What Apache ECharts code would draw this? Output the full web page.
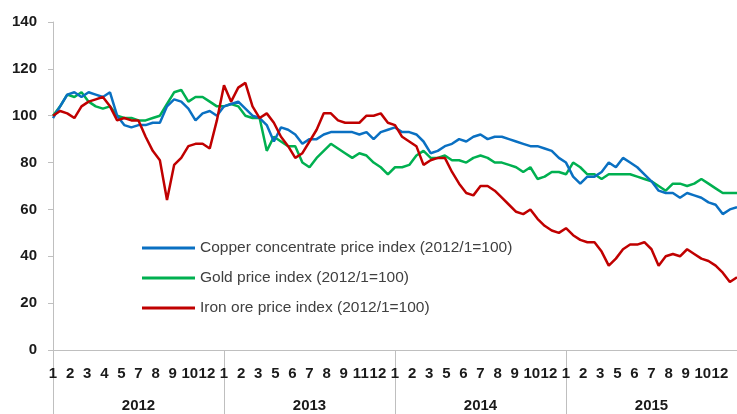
<!DOCTYPE html>
<html>
<head>
<meta charset="utf-8">
<script src="https://cdn.jsdelivr.net/npm/echarts@6/dist/echarts.min.js"></script>
<style>
  html, body { margin: 0; padding: 0; background: #fff; }
  #main { width: 737px; height: 414px; }
</style>
</head>
<body>
<div id="main"></div>
<script>
// half-month readings, Jan 2012 .. end of Dec 2015 (97 points)
var years = ['2012', '2013', '2014', '2015'];
var monthTicks = [
    '1', '2', '3', '4', '5', '7', '8', '9', '10', '12',
    '1', '2', '3', '5', '6', '7', '8', '9', '11', '12',
    '1', '2', '3', '5', '6', '7', '8', '9', '10', '12',
    '1', '2', '3', '5', '6', '7', '8', '9', '10', '12',
    ''
];
var copper = [
    99, 104, 109, 110, 108, 110, 109, 108, 110, 100, 96, 95, 96, 96, 97, 97, 104, 107, 106, 103, 98, 101, 102, 100,
    104, 105, 106, 103, 100, 99, 96, 89, 95, 94, 92, 88, 90, 90, 92, 93, 93, 93, 93, 92, 93, 90, 93, 94,
    95, 93, 93, 92, 89, 84, 85, 87, 88, 90, 89, 91, 92, 90, 91, 91, 90, 89, 88, 87, 87, 86, 85, 82,
    80, 74, 71, 74, 74, 76, 80, 78, 82, 80, 78, 75, 72, 68, 67, 67, 65, 67, 66, 65, 63, 62, 58, 60,
    61
];
var gold = [
    100, 104, 109, 108, 110, 106, 104, 103, 104, 100, 99, 99, 98, 98, 99, 100, 105, 110, 111, 106, 108, 108, 106, 104,
    104, 105, 104, 100, 99, 99, 85, 91, 89, 87, 87, 80, 78, 82, 85, 88, 86, 84, 82, 84, 83, 80, 78, 75,
    78, 78, 79, 83, 85, 82, 82, 83, 81, 81, 80, 82, 83, 82, 80, 80, 79, 78, 76, 78, 73, 74, 76, 76,
    75, 80, 78, 75, 75, 73, 75, 75, 75, 75, 74, 73, 72, 70, 68, 71, 71, 70, 71, 73, 71, 69, 67, 67,
    67
];
var iron = [
    100, 102, 101, 99, 104, 106, 107, 108, 104, 98, 99, 98, 98, 91, 85, 81, 64, 79, 82, 87, 88, 88, 86, 98,
    113, 106, 112, 114, 104, 99, 101, 97, 91, 87, 82, 84, 89, 94, 101, 101, 98, 97, 97, 97, 100, 100, 101, 97,
    96, 91, 89, 87, 79, 81, 82, 82, 76, 71, 67, 66, 70, 70, 68, 65, 62, 59, 58, 60, 56, 53, 51, 50,
    52, 49, 47, 46, 46, 42, 36, 39, 43, 45, 45, 46, 43, 36, 40, 41, 40, 43, 41, 39, 38, 36, 33, 29,
    31
];

var periods = [];
for (var y = 0; y < years.length; y++) {
    for (var m = 1; m <= 12; m++) {
        periods.push(years[y] + '/' + m + 'a');
        periods.push(years[y] + '/' + m + 'b');
    }
}
periods.push('2016/1a');

var myChart = echarts.init(document.getElementById('main'));
var gridLine = '#bfbfbf';

var option = {
    animation: false,
    backgroundColor: '#ffffff',
    grid: {
        left: 53,
        right: 0,
        top: 22,
        bottom: 64,
        outerBoundsMode: 'none'
    },
    legend: {
        orient: 'vertical',
        left: 142,
        top: 239,
        padding: 0,
        icon: 'rect',
        itemWidth: 53,
        itemHeight: 3,
        itemGap: 12,
        data: ['Copper concentrate price index (2012/1=100)', 'Gold price index (2012/1=100)', 'Iron ore price index (2012/1=100)'],
        textStyle: {
            fontFamily: 'Liberation Sans, Arial, sans-serif',
            fontSize: 15.5,
            lineHeight: 18,
            color: '#404040'
        }
    },
    xAxis: [
        {
            type: 'category',
            position: 'bottom',
            boundaryGap: false,
            data: periods,
            axisLine: { show: true, lineStyle: { color: gridLine, width: 1 } },
            axisTick: { show: false },
            axisLabel: { show: false },
            splitLine: { show: false }
        },
        {
            // month labels, spaced evenly like the original
            type: 'category',
            position: 'bottom',
            boundaryGap: false,
            data: monthTicks,
            axisLine: { show: false },
            axisTick: { show: false },
            axisLabel: {
                interval: 0,
                margin: 16,
                fontFamily: 'Liberation Sans Narrow, Arial Narrow, Liberation Sans, sans-serif',
                fontWeight: 'bold',
                fontSize: 15,
                color: '#1a1a1a'
            },
            splitLine: { show: false }
        },
        {
            type: 'category',
            position: 'bottom',
            boundaryGap: true,
            data: years,
            axisLine: { show: false },
            axisTick: { show: true, length: 70, lineStyle: { color: gridLine } },
            axisLabel: {
                interval: 0,
                margin: 48,
                fontFamily: 'Liberation Sans, Arial, sans-serif',
                fontWeight: 'bold',
                fontSize: 15,
                color: '#1a1a1a'
            },
            splitLine: { show: false }
        }
    ],
    yAxis: {
        type: 'value',
        min: 0,
        max: 140,
        interval: 20,
        axisLine: { show: true, lineStyle: { color: gridLine, width: 1 } },
        axisTick: { show: true, length: 5, lineStyle: { color: gridLine } },
        axisLabel: {
            margin: 16,
            fontFamily: 'Liberation Sans, Arial, sans-serif',
            fontWeight: 'bold',
            fontSize: 15,
            color: '#1a1a1a'
        },
        splitLine: { show: false }
    },
    series: [
        {
            name: 'Copper concentrate price index (2012/1=100)',
            type: 'line',
            xAxisIndex: 0,
            symbol: 'none',
            color: '#0a70c2',
            lineStyle: { width: 2.5, color: '#0a70c2' },
            data: copper,
            z: 3
        },
        {
            name: 'Gold price index (2012/1=100)',
            type: 'line',
            xAxisIndex: 0,
            symbol: 'none',
            color: '#00b050',
            lineStyle: { width: 2.5, color: '#00b050' },
            data: gold,
            z: 2
        },
        {
            name: 'Iron ore price index (2012/1=100)',
            type: 'line',
            xAxisIndex: 0,
            symbol: 'none',
            color: '#c00000',
            lineStyle: { width: 2.5, color: '#c00000' },
            data: iron,
            z: 4
        }
    ]
};

myChart.setOption(option);
</script>
</body>
</html>
